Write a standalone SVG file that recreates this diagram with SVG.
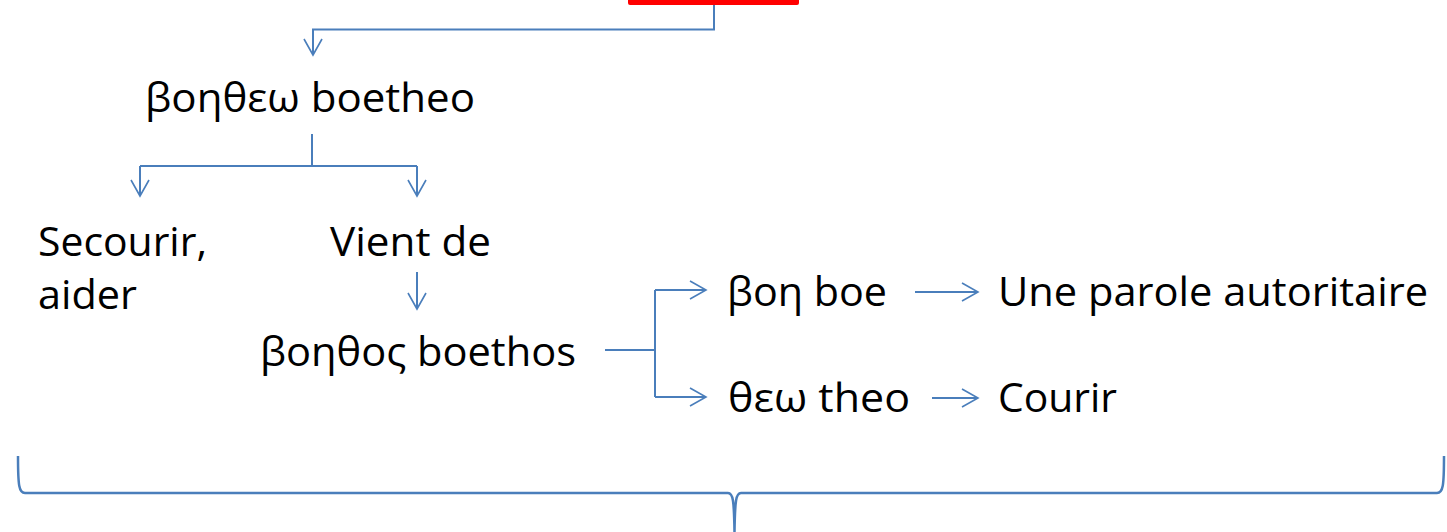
<svg xmlns="http://www.w3.org/2000/svg" width="1447" height="532" viewBox="0 0 1447 532">
<style>
text{font-family:"Open Sans","Noto Sans","Liberation Sans",sans-serif;font-size:41px;fill:#000}
.c{fill:none;stroke:#4a7ebb;stroke-width:2}
.b{fill:none;stroke:#4a7ebb;stroke-width:2.5}
</style>
<defs>
<marker id="a" viewBox="0 0 20 20" refX="18" refY="10" markerWidth="20" markerHeight="20" markerUnits="userSpaceOnUse" orient="auto">
<path d="M2,1 L18,10 L2,19" fill="none" stroke="#4a7ebb" stroke-width="1.6"/>
</marker>
</defs>
<rect width="1447" height="532" fill="#fff"/>
<g id="red-box"><rect x="628" y="-10" width="171" height="15" rx="2" fill="#ff0000"/></g>
<g id="n-boetheo"><text x="145" y="112" textLength="330" lengthAdjust="spacingAndGlyphs">βοηθεω boetheo</text></g>
<g id="n-secourir"><text x="38" y="256" textLength="169" lengthAdjust="spacingAndGlyphs">Secourir,</text><text x="38" y="309" textLength="99" lengthAdjust="spacingAndGlyphs">aider</text></g>
<g id="n-vient"><text x="330" y="256" textLength="161" lengthAdjust="spacingAndGlyphs">Vient de</text></g>
<g id="n-boethos"><text x="260" y="366" textLength="316" lengthAdjust="spacingAndGlyphs">βοηθος boethos</text></g>
<g id="n-boe"><text x="727" y="306" textLength="160" lengthAdjust="spacingAndGlyphs">βοη boe</text></g>
<g id="n-parole"><text x="998" y="306" textLength="430" lengthAdjust="spacingAndGlyphs">Une parole autoritaire</text></g>
<g id="n-theo"><text x="728" y="412" textLength="182" lengthAdjust="spacingAndGlyphs">θεω theo</text></g>
<g id="n-courir"><text x="998" y="412" textLength="119" lengthAdjust="spacingAndGlyphs">Courir</text></g>
<g id="connectors">
<path class="c" d="M714,5 V29.5 H313 V55" marker-end="url(#a)"/>
<path class="c" d="M312,134 V166"/>
<path class="c" d="M140,166 H417"/>
<path class="c" d="M140,166 V196" marker-end="url(#a)"/>
<path class="c" d="M417,166 V196" marker-end="url(#a)"/>
<path class="c" d="M417,272 V309" marker-end="url(#a)"/>
<path class="c" d="M605,350 H655"/>
<path class="c" d="M655,290 V397"/>
<path class="c" d="M655,290 H706" marker-end="url(#a)"/>
<path class="c" d="M655,397 H706" marker-end="url(#a)"/>
<path class="c" d="M915,292 H978" marker-end="url(#a)"/>
<path class="c" d="M932,398 H978" marker-end="url(#a)"/>
<path class="b" d="M18,456 C18,486 19,493 25,493 L728,493 C733,493 734,500 734.5,532 C735,500 736,493 741,493 L1437,493 C1443,493 1444,486 1444,456"/>
</g>
</svg>
